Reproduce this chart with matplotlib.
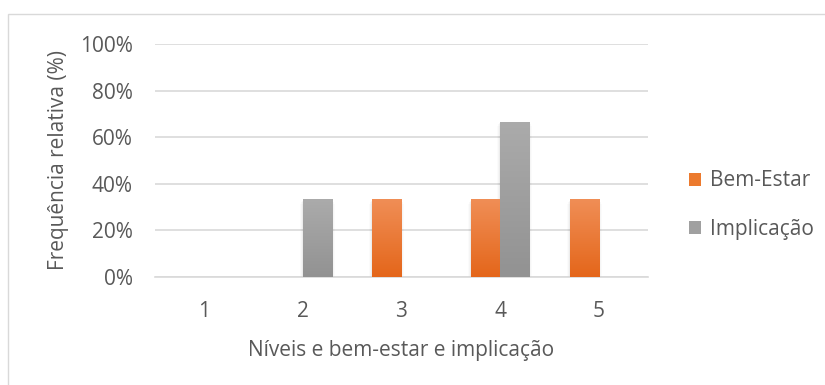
import matplotlib.pyplot as plt
import numpy as np
from matplotlib.colors import LinearSegmentedColormap
from matplotlib.patches import Rectangle

plt.rcParams['font.family'] = ['Open Sans', 'DejaVu Sans']

niveis = ['1', '2', '3', '4', '5']
bem_estar = [0, 0, 33.33, 33.33, 33.33]
implicacao = [0, 33.33, 0, 66.67, 0]
series_names = ['Bem-Estar', 'Implicação']

text_col = '#595959'
orange_grad = LinearSegmentedColormap.from_list('og', ['#e4661a', '#f08e56'])
grey_grad = LinearSegmentedColormap.from_list('gg', ['#929292', '#ababab'])

fig = plt.figure(figsize=(8.25, 3.85), dpi=100)
# chart border
fig.patches.append(Rectangle((8 / 825, -0.1), 1.0, 1 - 14 / 385 + 0.1,
                             transform=fig.transFigure, fill=False,
                             edgecolor='#d9d9d9', linewidth=1))

ax = fig.add_axes([155 / 825, 1 - 277 / 385, 493 / 825, 233 / 385])

x = np.arange(len(niveis))
width = 0.295
grad = np.linspace(0, 1, 256).reshape(-1, 1)


def gradient_bars(xs, vals, cmap):
    for xi, v in zip(xs, vals):
        if v <= 0:
            continue
        bar = ax.bar(xi, v, width, color='none', edgecolor='none', zorder=3)[0]
        # faint shadow behind the bar
        for k, a in enumerate([0.035, 0.025, 0.015]):
            d = 0.01 * (k + 1)
            ax.add_patch(Rectangle((xi - width / 2 - d, -0.6 * (k + 1)), width + 2 * d, v,
                                   facecolor='black', alpha=a, edgecolor='none', zorder=2))
        im = ax.imshow(grad, cmap=cmap, aspect='auto', origin='lower',
                       extent=[xi - width / 2, xi + width / 2, 0, v], zorder=3)
        im.set_clip_path(bar)


gradient_bars(x - width / 2, bem_estar, orange_grad)
gradient_bars(x + width / 2, implicacao, grey_grad)

ax.set_xlim(-0.5, 4.5)
ax.set_ylim(0, 100)
ax.set_yticks(np.arange(0, 101, 20))
ax.set_yticklabels([f'{v}%' for v in range(0, 101, 20)])
ax.set_xticks(x)
ax.set_xticklabels(niveis)
ax.grid(axis='y', color='#d9d9d9', linewidth=1.2, zorder=0)
ax.set_axisbelow(True)
for s in ['top', 'right', 'left']:
    ax.spines[s].set_visible(False)
ax.spines['bottom'].set_color('#d9d9d9')
ax.spines['bottom'].set_linewidth(1.2)
ax.tick_params(length=0, colors=text_col, labelsize=15)
ax.tick_params(axis='y', pad=16)
ax.tick_params(axis='x', pad=17)

ax.set_xlabel('Níveis e bem-estar e implicação', color=text_col, fontsize=15, labelpad=13)
ax.set_ylabel('Frequência relativa (%)', color=text_col, fontsize=15, labelpad=8)

# legend
handles = [Rectangle((0, 0), 1, 1, facecolor='#ec7a2e'),
           Rectangle((0, 0), 1, 1, facecolor='#a0a0a0')]
fig.legend(handles, series_names, loc='center left', bbox_to_anchor=(670 / 825, 1 - 205 / 385),
           frameon=False, fontsize=15, labelcolor=text_col, handlelength=0.6,
           handleheight=0.6, handletextpad=0.4, labelspacing=1.3)

fig.savefig('out.png', dpi=100)
